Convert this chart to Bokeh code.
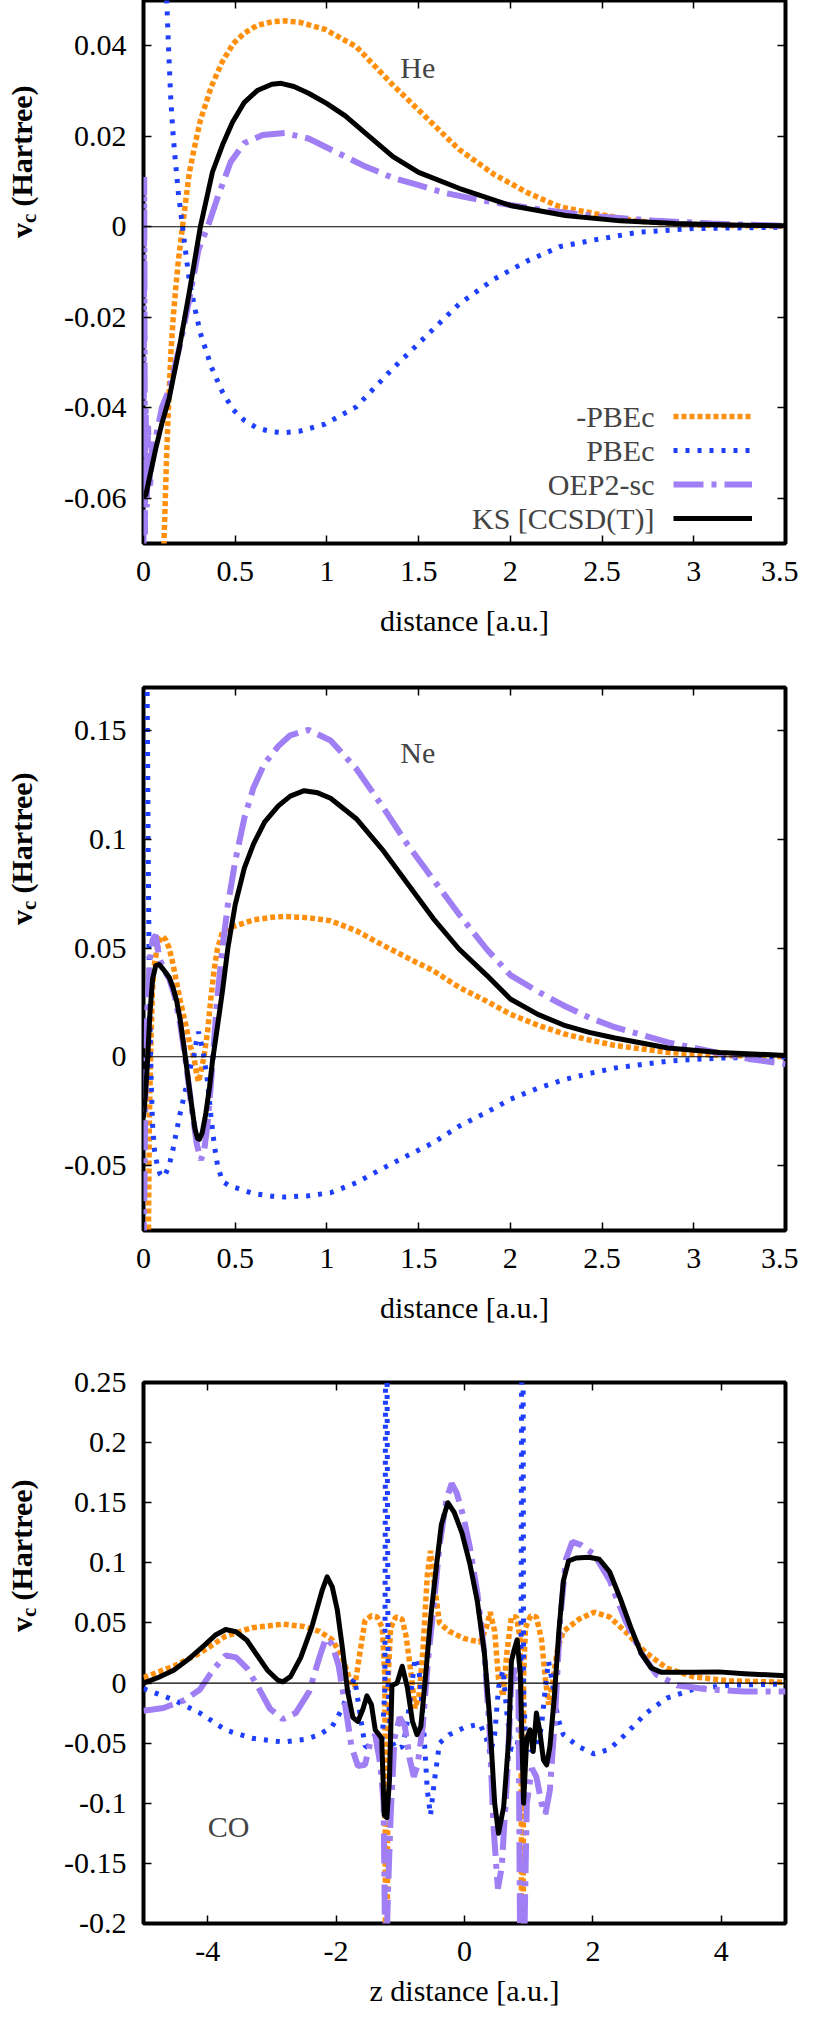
import numpy as np
from math import pi
from bokeh.plotting import figure
from bokeh.models import (Range1d, LinearAxis, FixedTicker, Span, Label, Legend,
                          LegendItem, CustomJSTickFormatter)
from bokeh.layouts import column, row
from bokeh.embed import file_html
from bokeh.resources import INLINE
from bokeh.core.properties import value

# ---------------- data: He ----------------
he_ks_x = [0.0, 0.013, 0.03, 0.067, 0.1, 0.14, 0.195, 0.25, 0.31, 0.376, 0.43, 0.485, 0.55, 0.62,
           0.7, 0.75, 0.82, 0.9, 1.0, 1.1, 1.2, 1.36, 1.5, 1.72, 2.0, 2.3, 2.6, 2.9, 3.2, 3.5]
he_ks_y = [-0.0597, -0.0592, -0.056, -0.049, -0.0435, -0.0379, -0.0268, -0.0144, 0.0, 0.0121, 0.018,
           0.0231, 0.0275, 0.0301, 0.0315, 0.0317, 0.031, 0.0295, 0.0272, 0.0245, 0.021, 0.0155,
           0.012, 0.0085, 0.0047, 0.0025, 0.0013, 0.0007, 0.0004, 0.0002]

he_pbe_x = [0.1, 0.113, 0.125, 0.135, 0.149, 0.162, 0.176, 0.19, 0.205, 0.225, 0.25, 0.28, 0.31,
            0.37, 0.43, 0.49, 0.55, 0.62, 0.7, 0.77, 0.85, 0.99, 1.16, 1.36, 1.54, 1.72, 1.91,
            2.09, 2.27, 2.46, 2.7, 3.0, 3.5]
he_pbe_y = [0.09, 0.068, 0.052, 0.041, 0.028, 0.02, 0.0135, 0.0075, 0.0025, -0.004, -0.012, -0.018,
            -0.0235, -0.031, -0.0365, -0.0405, -0.0428, -0.0445, -0.0453, -0.0455, -0.0452,
            -0.0436, -0.0398, -0.0313, -0.0242, -0.0171, -0.0116, -0.0076, -0.0044, -0.0029,
            -0.0012, -0.0004, -0.0001]

he_oep_x = [0.0, 0.004, 0.008, 0.012, 0.018, 0.025, 0.035, 0.05, 0.07, 0.1, 0.14, 0.2, 0.25, 0.3,
            0.35, 0.4, 0.475, 0.55, 0.65, 0.77, 0.9, 1.05, 1.2, 1.36, 1.5, 1.63, 1.82, 2.0, 2.2,
            2.5, 2.8, 3.1, 3.5]
he_oep_y = [-0.072, 0.011, -0.068, -0.040, -0.062, -0.044, -0.058, -0.047, -0.046, -0.040, -0.036,
            -0.026, -0.016, -0.005, 0.0, 0.006, 0.0143, 0.0185, 0.0203, 0.0207, 0.0195, 0.0165,
            0.0135, 0.0108, 0.0092, 0.0076, 0.006, 0.0048, 0.0036, 0.0022, 0.0013, 0.0007, 0.0002]

# ---------------- data: Ne ----------------
ne_ks_x = [0.0, 0.008, 0.02, 0.035, 0.05, 0.067, 0.085, 0.11, 0.14, 0.16, 0.18, 0.2, 0.22, 0.24,
           0.26, 0.28, 0.294, 0.305, 0.32, 0.34, 0.36, 0.376, 0.4, 0.43, 0.46, 0.5, 0.55, 0.6,
           0.66, 0.735, 0.8, 0.876, 0.95, 1.02, 1.16, 1.3, 1.44, 1.58, 1.72, 1.87, 2.0, 2.15,
           2.29, 2.43, 2.57, 2.86, 3.14, 3.5]
ne_ks_y = [-0.028, -0.02, -0.005, 0.02, 0.036, 0.042, 0.0425, 0.04, 0.0365, 0.032, 0.026, 0.017,
           0.005, -0.008, -0.021, -0.033, -0.0375, -0.038, -0.035, -0.026, -0.014, -0.002, 0.012,
           0.03, 0.05, 0.07, 0.087, 0.098, 0.108, 0.1155, 0.12, 0.1225, 0.1215, 0.119, 0.1096,
           0.0956, 0.0796, 0.0636, 0.0496, 0.0376, 0.0266, 0.0195, 0.0146, 0.0112, 0.0086, 0.004,
           0.002, 0.0006]

ne_pbe_x = [0.005, 0.012, 0.02, 0.026, 0.032, 0.04, 0.049, 0.06, 0.075, 0.09, 0.104, 0.12, 0.14,
            0.16, 0.176, 0.2, 0.231, 0.255, 0.276, 0.29, 0.3, 0.315, 0.33, 0.35, 0.367, 0.385,
            0.403, 0.43, 0.47, 0.51, 0.6, 0.7, 0.77, 0.9, 1.02, 1.16, 1.3, 1.44, 1.58, 1.72, 1.87,
            2.0, 2.15, 2.29, 2.43, 2.57, 2.86, 3.14, 3.5]
ne_pbe_y = [0.4, 0.25, 0.17, 0.09, 0.03, -0.005, -0.031, -0.043, -0.05, -0.054, -0.0555, -0.054,
            -0.05, -0.043, -0.036, -0.026, -0.0145, -0.005, 0.0008, 0.008, 0.0115, 0.006, 0.0,
            -0.012, -0.0268, -0.04, -0.0497, -0.0574, -0.0595, -0.0605, -0.063, -0.0642, -0.0646,
            -0.064, -0.0626, -0.058, -0.0516, -0.0455, -0.0396, -0.032, -0.0256, -0.0196, -0.0145,
            -0.0106, -0.0077, -0.0052, -0.002, -0.0006, -0.0001]

ne_oep_x = [0.0, 0.005, 0.01, 0.02, 0.035, 0.05, 0.067, 0.085, 0.11, 0.14, 0.17, 0.2, 0.23, 0.26,
            0.29, 0.312, 0.33, 0.35, 0.37, 0.4, 0.43, 0.46, 0.5, 0.55, 0.6, 0.66, 0.735, 0.8, 0.9,
            1.02, 1.16, 1.3, 1.44, 1.58, 1.72, 1.87, 2.0, 2.15, 2.29, 2.43, 2.57, 2.86, 3.14, 3.3,
            3.5]
ne_oep_y = [-0.09, -0.06, -0.02, 0.02, 0.045, 0.054, 0.056, 0.046, 0.04, 0.036, 0.028, 0.015,
            -0.002, -0.022, -0.04, -0.0475, -0.044, -0.03, -0.01, 0.025, 0.05, 0.07, 0.09, 0.11,
            0.124, 0.135, 0.143, 0.148, 0.1505, 0.1456, 0.1326, 0.1156, 0.0976, 0.0816, 0.0656,
            0.0496, 0.0376, 0.03, 0.0236, 0.018, 0.0136, 0.0066, 0.0016, -0.001, -0.0034]

# ---------------- data: CO ----------------
co_ks_x = [-5.0, -4.77, -4.53, -4.28, -4.04, -3.88, -3.72, -3.56, -3.39, -3.23, -3.07, -2.91,
           -2.83, -2.71, -2.55, -2.38, -2.22, -2.14, -2.06, -1.98, -1.9, -1.82, -1.74, -1.66,
           -1.58, -1.52, -1.45, -1.39, -1.33, -1.29, -1.25, -1.21, -1.17, -1.13, -1.05, -0.97,
           -0.89, -0.81, -0.74, -0.68, -0.61, -0.53, -0.44, -0.36, -0.26, -0.16, -0.04, 0.08,
           0.2, 0.31, 0.39, 0.47, 0.53, 0.61, 0.69, 0.73, 0.77, 0.82, 0.87, 0.92, 0.97, 1.02,
           1.07, 1.12, 1.17, 1.23, 1.28, 1.33, 1.4, 1.47, 1.54, 1.62, 1.74, 1.94, 2.1, 2.26,
           2.42, 2.59, 2.75, 2.91, 3.07, 3.56, 3.96, 4.36, 5.0]
co_ks_y = [0.0, 0.0046, 0.0107, 0.0207, 0.032, 0.04, 0.0445, 0.0427, 0.0356, 0.0231, 0.0107,
           0.0025, 0.001, 0.0053, 0.0214, 0.0463, 0.0766, 0.0883, 0.08, 0.0605, 0.0285, -0.0071,
           -0.0285, -0.032, -0.0214, -0.0107, -0.018, -0.039, -0.043, -0.046, -0.11, -0.112,
           -0.082, -0.002, 0.0, 0.014, -0.0036, -0.032, -0.043, -0.036, 0.0036, 0.053, 0.096,
           0.132, 0.150, 0.142, 0.125, 0.10, 0.068, 0.025, -0.028, -0.10, -0.125, -0.103, -0.046,
           0.018, 0.027, 0.036, 0.007, -0.10, -0.046, -0.039, -0.057, -0.025, -0.039, -0.064,
           -0.068, -0.053, -0.011, 0.043, 0.085, 0.1015, 0.104, 0.1047, 0.103, 0.0926, 0.0712,
           0.0463, 0.025, 0.0125, 0.0089, 0.0089, 0.0093, 0.0078, 0.006]

co_mpbe_x = [-5.0, -4.53, -4.12, -3.72, -3.31, -2.83, -2.5, -2.26, -2.06, -1.9, -1.79, -1.71,
             -1.63, -1.55, -1.45, -1.36, -1.28, -1.24, -1.225, -1.215, -1.19, -1.15, -1.07, -0.97,
             -0.91, -0.84, -0.77, -0.71, -0.65, -0.58, -0.53, -0.47, -0.39, -0.24, 0.0, 0.24,
             0.34, 0.4, 0.47, 0.53, 0.6, 0.66, 0.73, 0.81, 0.86, 0.88, 0.895, 0.91, 0.92, 0.95,
             1.03, 1.12, 1.2, 1.26, 1.31, 1.37, 1.45, 1.54, 1.78, 2.02, 2.26, 2.5, 2.83, 3.15,
             3.56, 4.12, 5.0]
co_mpbe_y = [0.0046, 0.014, 0.025, 0.039, 0.046, 0.049, 0.047, 0.043, 0.036, 0.021, 0.0036,
             -0.0036, 0.025, 0.052, 0.056, 0.055, 0.046, 0.0036, -0.4, -0.4, 0.0036, 0.046,
             0.055, 0.053, 0.039, 0.011, -0.021, -0.011, 0.025, 0.089, 0.11, 0.082, 0.05, 0.043,
             0.037, 0.034, 0.046, 0.059, 0.043, 0.0036, -0.011, 0.025, 0.055, 0.055, 0.039,
             0.0036, -0.4, -0.4, 0.0036, 0.046, 0.056, 0.055, 0.036, 0.0036, -0.018, 0.0, 0.0285,
             0.043, 0.053, 0.059, 0.055, 0.043, 0.025, 0.0125, 0.0053, 0.0018, 0.0007]

co_oep_x = [-5.0, -4.69, -4.36, -4.12, -3.92, -3.72, -3.56, -3.39, -3.23, -3.03, -2.83, -2.63,
            -2.42, -2.26, -2.16, -2.06, -1.96, -1.86, -1.76, -1.66, -1.55, -1.47, -1.39, -1.31,
            -1.26, -1.23, -1.19, -1.15, -1.09, -1.01, -0.93, -0.85, -0.79, -0.73, -0.65, -0.57,
            -0.48, -0.39, -0.28, -0.2, -0.12, -0.02, 0.08, 0.2, 0.31, 0.39, 0.45, 0.52, 0.58,
            0.66, 0.73, 0.79, 0.84, 0.87, 0.92, 0.97, 1.05, 1.12, 1.2, 1.26, 1.33, 1.41, 1.49,
            1.58, 1.68, 1.82, 2.02, 2.26, 2.5, 2.75, 2.99, 3.31, 3.8, 4.36, 5.0]
co_oep_y = [-0.023, -0.0207, -0.0142, -0.0053, 0.0107, 0.023, 0.0214, 0.0125, -0.0018, -0.0214,
            -0.030, -0.025, -0.0071, 0.0214, 0.0374, 0.032, 0.0142, -0.0178, -0.053, -0.069,
            -0.068, -0.05, -0.043, -0.068, -0.10, -0.25, -0.171, -0.11, -0.046, -0.0285, -0.0356,
            -0.064, -0.078, -0.068, -0.0356, 0.018, 0.064, 0.114, 0.153, 0.166, 0.158, 0.139,
            0.114, 0.075, 0.025, -0.039, -0.118, -0.171, -0.153, -0.082, 0.0, 0.0125, -0.0036,
            -0.25, -0.25, -0.10, -0.071, -0.078, -0.10, -0.109, -0.089, -0.0285, 0.053, 0.103,
            0.1175, 0.1147, 0.107, 0.0855, 0.053, 0.025, 0.0071, -0.0018, -0.0053, -0.0071,
            -0.0071]

# -PBEc is the negative of PBEc (and vice versa)
he_mpbe_y = [-v for v in he_pbe_y]
ne_mpbe_y = [-v for v in ne_pbe_y]
co_pbe_y = [-v for v in co_mpbe_y]

# ---------------- axes / labels ----------------
dist_ticks = [0, 0.5, 1, 1.5, 2, 2.5, 3, 3.5]
dist_labels = ["0", "0.5", "1", "1.5", "2", "2.5", "3", "3.5"]
z_ticks = [-4, -2, 0, 2, 4]
z_labels = ["-4", "-2", "0", "2", "4"]
he_yticks = [-0.06, -0.04, -0.02, 0, 0.02, 0.04]
he_ylabels = ["-0.06", "-0.04", "-0.02", "0", "0.02", "0.04"]
ne_yticks = [-0.05, 0, 0.05, 0.1, 0.15]
ne_ylabels = ["-0.05", "0", "0.05", "0.1", "0.15"]
co_yticks = [-0.2, -0.15, -0.1, -0.05, 0, 0.05, 0.1, 0.15, 0.2, 0.25]
co_ylabels = ["-0.2", "-0.15", "-0.1", "-0.05", "0", "0.05", "0.1", "0.15", "0.2", "0.25"]
legend_names = ["-PBEc", "PBEc", "OEP2-sc", "KS [CCSD(T)]"]

SERIF = "Liberation Serif"
FS = "30px"
C_ORANGE = "#ff900e"
C_BLUE = "#1f3fff"
C_PURPLE = "#a07ef4"
C_BLACK = "#000000"
YLAB_W = 40


def make_panel(xr, yr, xticks, xlabels, yticks, ylabels, xlabel, frame_h, top, bottom,
               label_standoff):
    p = figure(output_backend="svg", toolbar_location=None, title=None,
               frame_width=642, frame_height=frame_h,
               x_range=Range1d(*xr), y_range=Range1d(*yr),
               min_border_left=143 - YLAB_W, min_border_right=13,
               min_border_top=top, min_border_bottom=bottom)
    p.grid.visible = False
    p.outline_line_color = "black"
    p.outline_line_width = 4
    p.outline_line_alpha = 1.0
    p.background_fill_color = "white"
    p.border_fill_color = "white"

    xa = p.xaxis[0]
    ya = p.yaxis[0]
    xa.ticker = FixedTicker(ticks=xticks)
    xa.major_label_overrides = dict(zip(xticks, xlabels))
    ya.ticker = FixedTicker(ticks=yticks)
    ya.major_label_overrides = dict(zip(yticks, ylabels))
    for ax in (xa, ya):
        ax.axis_line_color = None
        ax.major_tick_in = 8
        ax.major_tick_out = 0
        ax.major_tick_line_width = 1.5
        ax.major_tick_line_color = "black"
        ax.minor_tick_line_color = None
        ax.major_label_text_font = SERIF
        ax.major_label_text_font_size = FS
        ax.major_label_text_color = "black"
    xa.major_label_standoff = 18
    ya.major_label_standoff = 17
    xa.axis_label = xlabel
    xa.axis_label_text_font = SERIF
    xa.axis_label_text_font_size = FS
    xa.axis_label_text_font_style = "normal"
    xa.axis_label_text_color = "black"
    xa.axis_label_standoff = label_standoff

    blank = CustomJSTickFormatter(code="return ''")
    for loc, ticks in (("right", yticks), ("above", xticks)):
        ax = LinearAxis(ticker=FixedTicker(ticks=ticks), formatter=blank,
                        major_label_text_font_size="0px", major_label_standoff=0,
                        major_tick_in=8, major_tick_out=0, major_tick_line_width=1.5,
                        minor_tick_line_color=None, axis_line_color=None)
        p.add_layout(ax, loc)

    p.add_layout(Span(location=0, dimension="width", line_color="black", line_width=1.2))

    # narrow companion figure that carries the rotated y label: v_c (Hartree)
    total_h = top + frame_h + bottom
    f = figure(output_backend="svg", toolbar_location=None, title=None,
               width=YLAB_W, height=total_h, min_border=0,
               x_axis_location=None, y_axis_location=None,
               x_range=Range1d(0, 1), y_range=Range1d(0, 1))
    f.grid.visible = False
    f.outline_line_color = None
    f.background_fill_color = "white"
    f.border_fill_color = "white"
    yc = bottom + frame_h / 2.0
    y0 = yc - 76.0
    common = dict(x_units="screen", y_units="screen", angle=pi / 2, text_font=SERIF,
                  text_font_style="bold", text_color="black", text_align="left",
                  text_baseline="alphabetic")
    f.add_layout(Label(x=21, y=y0, text="v", text_font_size="30px", **common))
    f.add_layout(Label(x=28, y=y0 + 15, text="c", text_font_size="21px", **common))
    f.add_layout(Label(x=21, y=y0 + 31.5, text="(Hartree)", text_font_size="30px", **common))
    return p, f


def add_curves(p, xs, ks, pbe_x, pbe, mpbe, oep_x, oep):
    r_o = p.line(pbe_x, mpbe, line_color=C_ORANGE, line_width=5.5, line_dash="5 3")
    r_b = p.line(pbe_x, pbe, line_color=C_BLUE, line_width=5, line_dash="4 8")
    r_p = p.line(oep_x, oep, line_color=C_PURPLE, line_width=6, line_dash="30 8 5 8")
    r_k = p.line(xs, ks, line_color=C_BLACK, line_width=5, line_join="round")
    return r_o, r_b, r_p, r_k


# ---------------- He ----------------
p1, f1 = make_panel((0, 3.5), (-0.07, 0.05), dist_ticks, dist_labels, he_yticks, he_ylabels,
                    "distance [a.u.]", 543, 0, 110, 20)
rs = add_curves(p1, he_ks_x, he_ks_y, he_pbe_x, he_pbe_y, he_mpbe_y, he_oep_x, he_oep_y)
p1.add_layout(Label(x=1.40, y=0.0352, text="He", text_font=SERIF, text_font_size=FS,
                    text_baseline="alphabetic"))
leg = Legend(items=[LegendItem(label=value(""), renderers=[r]) for r in rs],
             location=(530, 8), padding=0, margin=0, spacing=0, glyph_width=79,
             glyph_height=34, label_width=0, label_height=34, label_standoff=0,
             label_text_font_size="0px", border_line_color=None, background_fill_alpha=0)
p1.add_layout(leg)
for i, name in enumerate(legend_names):
    p1.add_layout(Label(x=511, y=8 + 136 - 17 - 34 * i, x_units="screen", y_units="screen",
                        text=name, text_font=SERIF, text_font_size=FS, text_align="right",
                        text_baseline="middle"))

# ---------------- Ne ----------------
p2, f2 = make_panel((0, 3.5), (-0.08, 0.17), dist_ticks, dist_labels, ne_yticks, ne_ylabels,
                    "distance [a.u.]", 543, 34, 110, 20)
add_curves(p2, ne_ks_x, ne_ks_y, ne_pbe_x, ne_pbe_y, ne_mpbe_y, ne_oep_x, ne_oep_y)
p2.add_layout(Label(x=1.40, y=0.14, text="Ne", text_font=SERIF, text_font_size=FS,
                    text_baseline="alphabetic"))

# ---------------- CO ----------------
p3, f3 = make_panel((-5, 5), (-0.2, 0.25), z_ticks, z_labels, co_yticks, co_ylabels,
                    "z distance [a.u.]", 541, 42, 97, 10)
add_curves(p3, co_ks_x, co_ks_y, co_mpbe_x, co_pbe_y, co_mpbe_y, co_oep_x, co_oep_y)
p3.add_layout(Label(x=-4.0, y=-0.119, text="CO", text_font=SERIF, text_font_size=FS,
                    text_baseline="alphabetic"))

layout = column(row(f1, p1, spacing=0), row(f2, p2, spacing=0), row(f3, p3, spacing=0),
                spacing=0)
open("out.html", "w").write(file_html(layout, INLINE))
